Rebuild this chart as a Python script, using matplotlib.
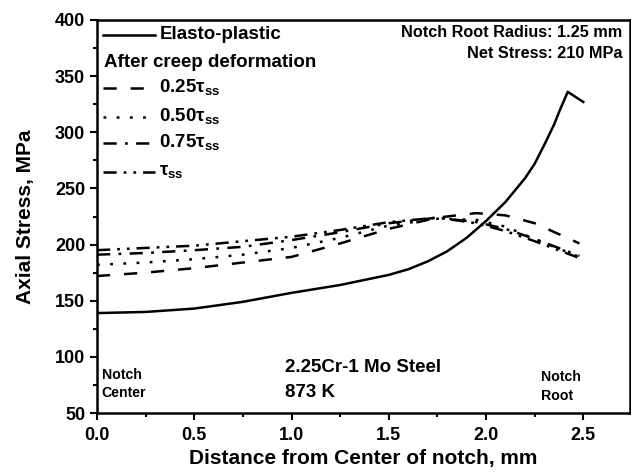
import numpy as np
import matplotlib
matplotlib.use('Agg')
import matplotlib.pyplot as plt
from matplotlib.ticker import MultipleLocator

plt.rcParams['font.family'] = ['Liberation Sans', 'DejaVu Sans']
plt.rcParams['font.weight'] = 'bold'
plt.rcParams['lines.scale_dashes'] = False

# elasto-plastic curve
x_ep = [0.0, 0.25, 0.5, 0.75, 1.0, 1.25, 1.5, 1.6, 1.7, 1.8, 1.9, 2.0, 2.1,
        2.2, 2.25, 2.3, 2.35, 2.38, 2.42, 2.5]
s_ep = [139, 140, 143, 149, 157, 164, 173, 178, 185, 194, 206, 221, 238,
        259, 272, 289, 307, 320, 336, 327]

# after creep deformation
x_cr = [0.0, 0.25, 0.5, 0.75, 1.0, 1.25, 1.5, 1.75, 1.95, 2.1, 2.25, 2.48]
s_025 = [172, 175, 179, 184, 189, 201, 214, 224, 228, 226, 219, 201]
s_050 = [182, 184, 187, 191, 197, 206, 217, 223, 222, 216, 205, 189]
s_075 = [191, 192.5, 195, 198, 204, 211, 219, 224, 220, 214, 205, 190]
s_tss = [195, 197, 199, 203, 207, 213, 220, 224, 219, 212, 203, 188]

labels = ['0.25τ$_{\\mathregular{ss}}$', '0.50τ$_{\\mathregular{ss}}$',
          '0.75τ$_{\\mathregular{ss}}$', 'τ$_{\\mathregular{ss}}$']
dashes = [(9.5, 10), (2, 7.5), (9.5, 6, 2, 6), (9.5, 5, 2, 5, 2, 5)]

fig = plt.figure(figsize=(6.31, 4.75), dpi=100)
ax = fig.add_axes([97/631, 62/475, 533/631, 393/475])

lw = 1.8
ax.plot(x_ep, s_ep, color='black', lw=lw)
for s, d in zip([s_025, s_050, s_075, s_tss], dashes):
    ax.plot(x_cr, s, color='black', lw=lw, dashes=d)

ax.set_xlim(0, 2.74)
ax.set_ylim(50, 400)
ax.xaxis.set_major_locator(MultipleLocator(0.5))
ax.xaxis.set_minor_locator(MultipleLocator(0.25))
ax.yaxis.set_major_locator(MultipleLocator(50))
ax.yaxis.set_minor_locator(MultipleLocator(25))
ax.xaxis.set_major_formatter(matplotlib.ticker.FormatStrFormatter('%.1f'))
ax.tick_params(which='major', direction='out', length=5, width=1.5, labelsize=13)
ax.tick_params(axis='x', which='major', pad=5)
ax.tick_params(which='minor', direction='out', length=3, width=1.5)
for sp in ax.spines.values():
    sp.set_linewidth(1.8)

ax.set_xlabel('Distance from Center of notch, mm', fontsize=15, fontweight='bold', labelpad=4)
ax.set_ylabel('Axial Stress, MPa', fontsize=15, fontweight='bold', labelpad=14)

# hand-made legend
tr = ax.transAxes
lx = [0.011, 0.109]
ax.plot(lx, [0.962, 0.962], color='black', lw=lw, transform=tr)
ax.text(0.117, 0.962, 'Elasto-plastic', transform=tr, fontsize=13.5, va='center')
ax.text(0.013, 0.893, 'After creep deformation', transform=tr, fontsize=13.5, va='center')
rows = [0.827, 0.753, 0.687, 0.613]
for y, lab, d in zip(rows, labels, dashes):
    ax.plot(lx, [y, y], color='black', lw=lw, dashes=d, transform=tr)
    ax.text(0.117, y, lab, transform=tr, fontsize=13.5, va='center')

ax.text(0.985, 0.967, 'Notch Root Radius: 1.25 mm', transform=tr, fontsize=11.7,
        ha='right', va='center')
ax.text(0.985, 0.916, 'Net Stress: 210 MPa', transform=tr, fontsize=11.7,
        ha='right', va='center')
ax.text(0.353, 0.117, '2.25Cr-1 Mo Steel', transform=tr, fontsize=13.5, va='center')
ax.text(0.353, 0.051, '873 K', transform=tr, fontsize=13.5, va='center')
ax.text(0.009, 0.097, 'Notch', transform=tr, fontsize=10.2, va='center')
ax.text(0.009, 0.051, 'Center', transform=tr, fontsize=10.2, va='center')
ax.text(0.833, 0.092, 'Notch', transform=tr, fontsize=10.2, va='center')
ax.text(0.833, 0.043, 'Root', transform=tr, fontsize=10.2, va='center')

fig.savefig('out.png', dpi=100)
